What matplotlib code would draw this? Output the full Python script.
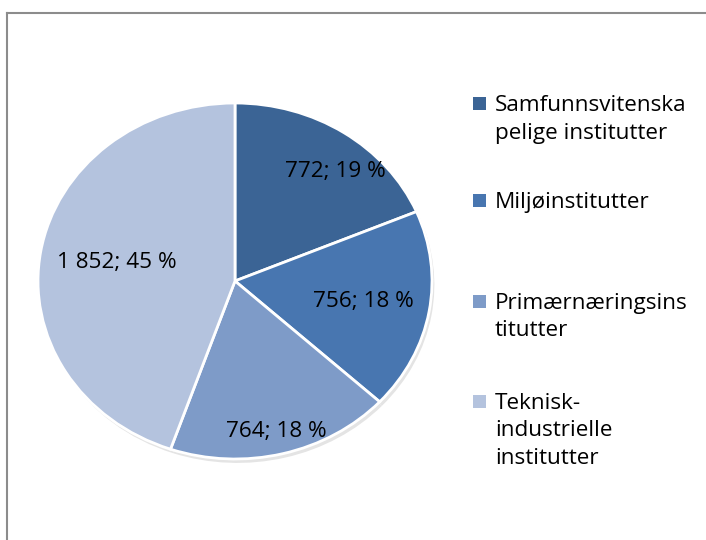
import matplotlib
matplotlib.use("Agg")
import matplotlib.pyplot as plt
from matplotlib.patches import Rectangle
from matplotlib.lines import Line2D
import numpy as np

plt.rcParams['font.family'] = ['Open Sans', 'DejaVu Sans']

categories = ["Samfunnsvitenskapelige institutter", "Miljøinstitutter",
              "Primærnæringsinstitutter", "Teknisk-industrielle institutter"]
legend_labels = ["Samfunnsvitenska\npelige institutter", "Miljøinstitutter",
                 "Primærnæringsins\ntitutter", "Teknisk-\nindustrielle\ninstitutter"]
values = [772, 756, 764, 1852]
value_text = ["772", "756", "764", "1 852"]
colors = ["#3B6495", "#4876B0", "#7E9BC8", "#B4C3DE"]

W, H = 706, 540
fig = plt.figure(figsize=(W / 100, H / 100), dpi=100)

# pie axes: ellipse centre (235,281), half-axes 197 x 178 px
cx, cy, rx, ry = 235, 281, 197, 178
ax = fig.add_axes([(cx - rx) / W, (H - cy - ry) / H, 2 * rx / W, 2 * ry / H])

# soft shadow
ax.pie(values, startangle=90, counterclock=False, radius=1.0,
       center=(0.012, -0.022), colors=["#e4e4e4"] * 4,
       wedgeprops=dict(linewidth=0))
wedges, _ = ax.pie(values, startangle=90, counterclock=False, colors=colors,
                   wedgeprops=dict(edgecolor="white", linewidth=2))
ax.set_aspect('auto')
ax.set_xlim(-1, 1)
ax.set_ylim(-1, 1)
ax.axis('off')

total = sum(values)
lab_r = [0.80, 0.66, 0.87, 0.61]
lab_da = [-6, 0, 0, 0]
for w, v, vt, r, da in zip(wedges, values, value_text, lab_r, lab_da):
    ang = np.deg2rad((w.theta1 + w.theta2) / 2 + da)
    pct = round(100 * v / total)
    ax.text(r * np.cos(ang), r * np.sin(ang), f"{vt}; {pct} %",
            ha="center", va="center", fontsize=16.2, color="black")

# legend (manual, square centred on the first text line)
entry_y = [103.5, 200.5, 301.5, 401.5]
pitch = 27.5
for lab, col, y in zip(legend_labels, colors, entry_y):
    fig.patches.append(Rectangle((473 / W, (H - y - 6.5) / H), 13 / W, 13 / H,
                                 transform=fig.transFigure, facecolor=col,
                                 edgecolor="none"))
    for i, line in enumerate(lab.split("\n")):
        fig.text(495 / W, (H - (y + 7.5 + i * pitch)) / H, line, ha="left",
                 va="baseline", fontsize=16.2, color="black")

# chart frame (top and left visible)
fig.add_artist(Line2D([7 / W, 1], [1 - 13 / H, 1 - 13 / H], transform=fig.transFigure,
                      color="#8c8c8c", linewidth=1.5))
fig.add_artist(Line2D([7 / W, 7 / W], [0, 1 - 13 / H], transform=fig.transFigure,
                      color="#8c8c8c", linewidth=1.5))

fig.savefig("out.png", dpi=100)
